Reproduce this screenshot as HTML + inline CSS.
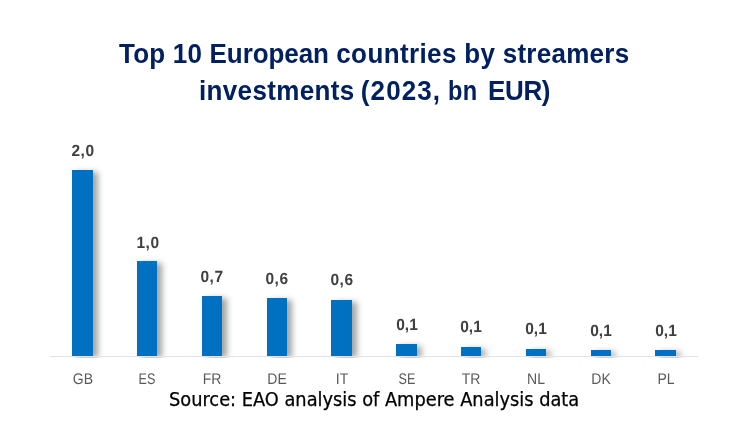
<!DOCTYPE html>
<html lang="en">
<head>
<meta charset="utf-8">
<title>Top 10 European countries by streamers investments</title>
<style>
html,body{margin:0;padding:0;background:#fff;}
body{width:742px;height:430px;position:relative;overflow:hidden;font-family:"Liberation Sans",sans-serif;}
.title{position:absolute;color:#002060;font-weight:bold;font-size:26px;white-space:nowrap;line-height:30px;transform:scaleY(1.085) rotate(0.01deg);transform-origin:50% 78.7%;}
.title span{display:inline;}
.t1{left:119.4px;top:38.5px;letter-spacing:0.21px;}
.t2{left:198.75px;top:76.2px;letter-spacing:0.34px;}
.bn{display:inline-block !important;transform:scaleX(0.906);transform-origin:0 50%;}
.axis{position:absolute;left:50px;top:356px;width:648px;height:1px;background:#e0e3e9;}
.bar{position:absolute;width:20.5px;background:#0070c0;box-shadow:4.5px 2px 6px rgba(0,0,0,0.36);}
.val{position:absolute;width:60px;text-align:center;font-weight:bold;font-size:15.5px;color:#404040;line-height:16px;white-space:nowrap;letter-spacing:0.5px;transform:scaleY(1.05) rotate(0.03deg);transform-origin:50% 82%;}
.cat{position:absolute;width:60px;text-align:center;font-size:14px;color:#595959;line-height:16px;top:370.5px;white-space:nowrap;transform:scaleY(1.1) rotate(0.03deg);transform-origin:50% 80%;}
.src{position:absolute;left:169.2px;top:389.4px;font-family:"DejaVu Sans Condensed","DejaVu Sans",sans-serif;font-size:19.8px;font-stretch:condensed;letter-spacing:0px;line-height:22px;color:#000;white-space:nowrap;-webkit-text-stroke:0.25px #000;transform:rotate(0.01deg);transform-origin:0 50%;}
.mask{position:absolute;left:0;top:358px;width:742px;height:10px;background:#fff;}
</style>
</head>
<body>
<div class="title t1">Top 10 <span style="letter-spacing:-0.08px">European</span> <span style="letter-spacing:0.38px">countries</span><span style="letter-spacing:0.28px"> by streamers</span></div>
<div class="title t2">investments <span style="letter-spacing:1.09px;margin-left:-1.2px">(2023</span>, <span class="bn">bn</span> <span style="letter-spacing:-0.33px">EUR)</span></div>
<div class="bar" style="left:72.2px;top:170px;height:186px"></div>
<div class="bar" style="left:136.9px;top:261px;height:95px"></div>
<div class="bar" style="left:201.8px;top:296px;height:60px"></div>
<div class="bar" style="left:266.5px;top:298px;height:58px"></div>
<div class="bar" style="left:331.3px;top:300px;height:56px"></div>
<div class="bar" style="left:396.1px;top:344px;height:12px"></div>
<div class="bar" style="left:460.9px;top:347px;height:9px"></div>
<div class="bar" style="left:525.8px;top:349px;height:7px"></div>
<div class="bar" style="left:590.5px;top:350px;height:6px"></div>
<div class="bar" style="left:655.4px;top:350px;height:6px"></div>
<div class="mask"></div>
<div class="axis"></div>
<div class="val" style="left:52.7px;top:142.8px">2,0</div>
<div class="cat" style="left:52.6px">GB</div>
<div class="val" style="left:117.5px;top:234.6px">1,0</div>
<div class="cat" style="left:117.4px;transform:scale(0.9,1.1) rotate(0.03deg)">ES</div>
<div class="val" style="left:182.3px;top:268.8px">0,7</div>
<div class="cat" style="left:182.2px">FR</div>
<div class="val" style="left:247.1px;top:270.8px">0,6</div>
<div class="cat" style="left:247.0px">DE</div>
<div class="val" style="left:311.9px;top:271.8px">0,6</div>
<div class="cat" style="left:311.8px">IT</div>
<div class="val" style="left:376.5px;top:316.8px;letter-spacing:0">0,1</div>
<div class="cat" style="left:376.6px;transform:scale(0.9,1.1) rotate(0.03deg)">SE</div>
<div class="val" style="left:441.3px;top:319.0px;letter-spacing:0">0,1</div>
<div class="cat" style="left:441.4px">TR</div>
<div class="val" style="left:506.1px;top:321.2px;letter-spacing:0">0,1</div>
<div class="cat" style="left:506.2px">NL</div>
<div class="val" style="left:570.9px;top:322.8px;letter-spacing:0">0,1</div>
<div class="cat" style="left:571.0px">DK</div>
<div class="val" style="left:635.7px;top:322.8px;letter-spacing:0">0,1</div>
<div class="cat" style="left:635.8px">PL</div>
<div class="src">Source: EAO analysis of Ampere Analysis data</div>
</body>
</html>
